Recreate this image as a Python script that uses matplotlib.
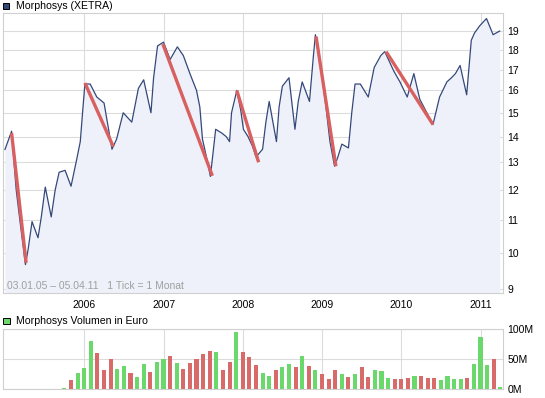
import matplotlib.pyplot as plt
from matplotlib.patches import Rectangle
from matplotlib.ticker import FixedLocator, NullLocator

plt.rcParams['font.family'] = ['Liberation Sans', 'DejaVu Sans']

# price series, x in months since Jan 2005
price_month = [0.0, 1.0, 1.7, 2.3, 3.1, 3.5, 4.1, 5.0, 5.5, 6.1, 7.0, 7.6, 8.2, 9.1,
               10.0, 10.8, 11.4, 11.8, 12.1, 12.9, 13.9, 15.0, 16.2, 16.9, 17.9, 19.2,
               20.2, 21.0, 22.1, 22.5, 23.1, 24.0, 25.0, 26.1, 27.0, 28.0, 29.0, 29.5,
               29.9, 30.5, 31.1, 31.9, 32.8, 33.5, 34.0, 34.3, 35.1, 35.7, 36.1, 36.8,
               37.5, 38.0, 39.0, 39.5, 40.0, 40.5, 41.1, 41.5, 42.0, 43.0, 43.9, 44.4,
               45.0, 46.1, 46.3, 46.7, 47.0, 47.9, 48.6, 49.2, 49.9, 50.4, 51.0, 52.0,
               52.5, 53.0, 53.8, 55.0, 55.9, 56.9, 57.5, 58.9, 59.8, 60.9, 61.9, 62.8,
               64.8, 65.8, 66.9, 67.6, 68.2, 68.9, 69.9, 70.6, 71.1, 71.9, 72.9, 73.9, 74.9]
price = [13.49, 14.22, 12.0, 10.92, 9.67, 10.1, 10.95, 10.45, 11.1, 12.1, 11.1, 12.0, 12.63, 12.7,
         12.13, 13.04, 13.8, 15.2, 16.3, 16.3, 15.7, 15.43, 13.5, 13.9, 15.0, 14.6,
         16.1, 16.5, 15.0, 16.6, 18.2, 18.4, 17.5, 18.15, 17.7, 16.8, 16.0, 15.25,
         13.9, 13.2, 12.48, 14.3, 14.15, 14.0, 13.8, 15.0, 16.0, 15.1, 14.3, 14.0,
         13.6, 13.2, 13.5, 14.6, 15.5, 14.7, 13.8, 15.25, 16.2, 16.6, 14.3, 15.5,
         16.4, 15.5, 16.2, 17.7, 18.8, 16.9, 15.25, 13.8, 12.85, 13.2, 13.7, 13.55,
         15.0, 16.3, 16.3, 15.7, 17.1, 17.7, 17.9, 16.9, 16.4, 15.7, 16.8, 15.6,
         14.5, 15.7, 16.4, 16.6, 16.8, 17.2, 15.8, 18.5, 18.9, 19.3, 19.7, 18.8, 19.0]

# red trend segments: (start month, start price, end month, end price)
trends = [(1.0, 14.15, 3.2, 9.72), (12.1, 16.35, 16.4, 13.6), (23.9, 18.3, 31.4, 12.5),
          (35.1, 16.0, 38.4, 13.0), (47.1, 18.7, 50.1, 12.85), (57.7, 17.9, 64.8, 14.5)]

# monthly volume in million euro, starting Oct 2005
vol_start = 9
volume = [2.2, 15.6, 27.8, 35.6, 80.6, 60.6, 32.2, 50.6, 33.9, 38.9, 27.2, 20.6, 42.2, 28.9,
          45.6, 50.6, 55.6, 43.9, 33.9, 43.9, 50.6, 58.9, 63.9, 62.2, 32.2, 45.6, 95.6, 62.2,
          53.3, 40.6, 27.2, 22.2, 32.2, 37.2, 42.2, 37.2, 55.6, 38.9, 32.2, 25.6, 17.2, 32.2,
          25.6, 20.6, 25.6, 37.2, 20.6, 32.2, 30.6, 18.9, 17.2, 17.2, 18.9, 22.2, 22.2, 18.9,
          18.9, 15.6, 22.2, 17.2, 17.2, 18.9, 42.8, 87.2, 40.6, 50.6, 3.9]
# g = up month, r = down month
vol_dir = ("grgggrrrgg" "rggrggrgrr" "rrrgrrgrrr" "ggrggrgrgr"
           "rrgrgrrggg" "rrrgrrrggg" "grgggrg")

years = ['2006', '2007', '2008', '2009', '2010', '2011']
price_ticks = [9, 10, 11, 12, 13, 14, 15, 16, 17, 18, 19]

W, H = 545, 398
fig = plt.figure(figsize=(W / 100, H / 100), dpi=100)

grid_c = '#dcdcdc'
spine_c = '#d0d0d0'
xlim = (-0.3, 75.4)
year_pos = [12 * (i + 1) for i in range(len(years))]

ax = fig.add_axes([3 / W, 1 - 293.3 / H, 500 / W, 280 / H])
ax.set_yscale('log')
ax.set_ylim(8.9, 20.0)
ax.set_xlim(*xlim)
ax.fill_between(price_month, price, 8.9, color='#eef1f9', lw=0)
ax.plot(price_month, price, color='#34487a', lw=0.9)
for m0, p0, m1, p1 in trends:
    ax.plot([m0, m1], [p0, p1], color='#d96060', lw=2.4, solid_capstyle='butt')
ax.yaxis.set_major_locator(FixedLocator(price_ticks))
ax.yaxis.set_minor_locator(NullLocator())
ax.set_yticklabels([str(t) for t in price_ticks])
ax.set_xticks(year_pos)
ax.set_xticklabels(years)
ax.yaxis.tick_right()
ax.tick_params(axis='both', length=0, labelsize=7.5, colors='black')
ax.tick_params(axis='y', pad=3)
ax.tick_params(axis='x', pad=5)
ax.grid(True, color=grid_c, lw=0.8)
ax.set_axisbelow(True)
for s in ax.spines.values():
    s.set_color(spine_c)
    s.set_linewidth(0.8)
ax.text(0.008, 0.025, '03.01.05 \u2013 05.04.11   1 Tick = 1 Monat', transform=ax.transAxes,
        fontsize=7.5, color='#a0a0a0', va='center', ha='left')

vax = fig.add_axes([3 / W, 1 - 389.3 / H, 500 / W, 60 / H])
vax.set_xlim(*xlim)
vax.set_ylim(0, 100)
months = [vol_start + i for i in range(len(volume))]
colors = ['#6ad86a' if d == 'g' else '#d96a6a' for d in vol_dir]
vax.bar(months, volume, width=0.62, color=colors, lw=0)
vax.set_xticks(year_pos)
vax.set_xticklabels([])
vax.set_yticks([0, 50, 100])
vax.set_yticklabels(['0M', '50M', '100M'])
vax.yaxis.tick_right()
vax.tick_params(axis='both', length=0, labelsize=7.5, colors='black', pad=3)
vax.grid(True, color=grid_c, lw=0.8)
vax.set_axisbelow(True)
for s in vax.spines.values():
    s.set_color(spine_c)
    s.set_linewidth(0.8)

# legend headers
fig.add_artist(Rectangle((3 / W, 1 - 9 / H), 6.3 / W, 6.3 / H, transform=fig.transFigure,
                         facecolor='#34487a', edgecolor='black', lw=0.7))
fig.text(15.5 / W, 1 - 6 / H, 'Morphosys (XETRA)', fontsize=7.6, va='center', ha='left')
fig.add_artist(Rectangle((3.3 / W, 1 - 324 / H), 6.3 / W, 6.3 / H, transform=fig.transFigure,
                         facecolor='#6ad86a', edgecolor='black', lw=0.7))
fig.text(15.5 / W, 1 - 321 / H, 'Morphosys Volumen in Euro', fontsize=7.6, va='center', ha='left')

fig.savefig('out.png', dpi=100)
